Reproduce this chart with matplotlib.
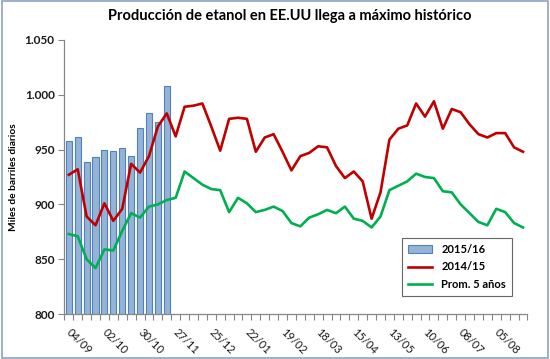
import matplotlib.pyplot as plt
import numpy as np
from matplotlib.patches import Rectangle

plt.rcParams['font.family'] = ['Lato', 'DejaVu Sans']

# weekly categories, Sept to Aug, labels every 4 weeks
weeks = np.arange(52)
tick_labels = ["04/09", "02/10", "30/10", "27/11", "25/12", "22/01", "19/02",
               "18/03", "15/04", "13/05", "10/06", "08/07", "05/08"]

# 2015/16 (bars, only first 12 weeks available)
prod_1516 = [958, 961, 939, 943, 950, 949, 951, 944, 970, 983, 975, 1008]

# 2014/15
prod_1415 = [927, 932, 889, 881, 901, 885, 896, 937, 929, 944, 971, 983, 962,
             989, 990, 992, 971, 949, 978, 979, 978, 948, 961, 964, 948, 931,
             944, 947, 953, 952, 935, 924, 930, 921, 887, 911, 959, 969, 972,
             992, 980, 994, 969, 987, 984, 973, 964, 961, 965, 965, 952, 948]

# 5-year average
prom_5 = [873, 871, 850, 842, 859, 858, 876, 892, 888, 898, 900, 904, 906,
          930, 924, 918, 914, 913, 893, 906, 901, 893, 895, 898, 894, 883,
          880, 888, 891, 895, 892, 898, 887, 885, 879, 889, 913, 917, 921,
          928, 925, 924, 912, 911, 900, 892, 884, 881, 896, 893, 883, 879]

fig = plt.figure(figsize=(5.5, 3.59), dpi=100)
ax = fig.add_axes([0.117, 0.125, 0.842, 0.764])

bars = ax.bar(weeks[:len(prod_1516)], prod_1516, width=0.68, color='#95B3D7',
              edgecolor='#4F81BD', linewidth=0.8, label='2015/16', zorder=1)
l1, = ax.plot(weeks, prod_1415, color='#C00000', lw=1.9, label='2014/15', zorder=3)
l2, = ax.plot(weeks, prom_5, color='#00B050', lw=1.9, label='Prom. 5 años', zorder=2)

ax.set_xlim(-0.5, 51.5)
ax.set_ylim(800, 1050)

yt = np.arange(800, 1051, 50)
ax.set_yticks(yt)
ax.set_yticklabels([f"{v:,}".replace(",", ".") for v in yt], fontsize=8.5,
                   fontweight='bold', color='#1a1a1a')
ax.tick_params(axis='y', length=4, color='#868686', pad=3)

# tick marks between categories, labels at every 4th category
ax.set_xticks(np.arange(-0.5, 52, 1))
ax.set_xticklabels([])
ax.tick_params(axis='x', which='major', length=4, color='#868686')
ax.set_xticks(weeks[::4] + 0.4, minor=True)
ax.set_xticklabels(tick_labels, minor=True, rotation=-45, ha='left',
                   va='top', rotation_mode='anchor', fontsize=8, color='#1a1a1a')
ax.tick_params(axis='x', which='minor', length=0, pad=9)

for s in ['top', 'right']:
    ax.spines[s].set_visible(False)
for s in ['left', 'bottom']:
    ax.spines[s].set_color('#868686')
    ax.spines[s].set_linewidth(0.9)

ax.set_ylabel("Miles de barriles diarios", fontsize=7.3, fontweight='bold')
ax.yaxis.set_label_coords(-0.1, 0.5)

fig.suptitle("Producción de etanol en EE.UU llega a máximo histórico",
             fontsize=10.5, fontweight='bold', x=0.527, y=0.975)

leg = ax.legend([bars, l1, l2], ['2015/16', '2014/15', 'Prom. 5 años'],
                loc='lower left', bbox_to_anchor=(0.718, 0.047), fontsize=8,
                frameon=True, fancybox=False, edgecolor='#404040',
                handlelength=2.2, borderpad=0.5, labelspacing=0.6)
leg.get_frame().set_linewidth(0.8)
for t in leg.get_texts():
    t.set_fontweight('bold')

fig.patches.append(Rectangle((0.003, 0.004), 0.994, 0.992, transform=fig.transFigure,
                             fill=False, edgecolor='#8EA3BF', linewidth=1.2))

fig.savefig("out.png", dpi=100)
